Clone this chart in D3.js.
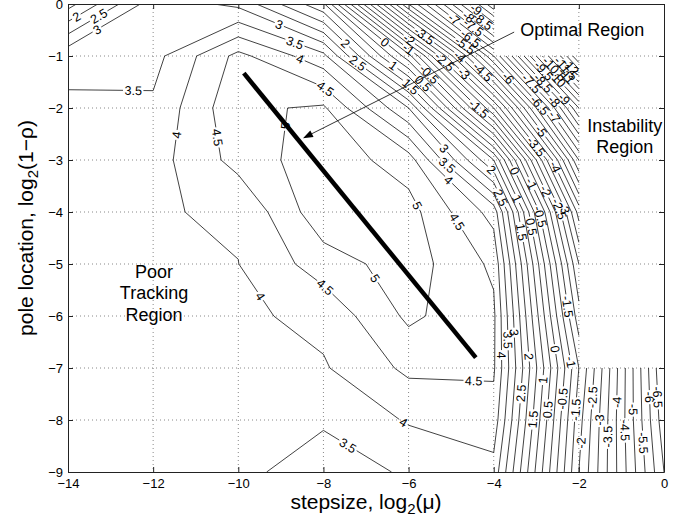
<!DOCTYPE html>
<html>
<head>
<meta charset="utf-8">
<script src="https://cdn.jsdelivr.net/npm/d3@7"></script>
<style>
  html, body { margin: 0; padding: 0; background: #fff; }
  text { font-family: "Liberation Sans", Arial, Helvetica, sans-serif; }
</style>
</head>
<body>
<svg id="chart" width="695" height="522"></svg>
<script>
// Sweep grid: stepsize columns (log2 mu) and pole-location rows (log2(1-rho))
const stepsizes = [-14, -12, -10, -8, -6, -4, -2, 0];
const poles = [0, -1, -2, -3, -4, -5, -6, -7, -8, -9];

// Tracking performance per stepsize, one array per pole location; null = unstable (not evaluated)
const pole0 = [1.30, 3.30, 2.88, 1.10, -5.50, -10.40, null, null];
const pole1 = [3.38, 3.32, 4.65, 3.65, -0.30, -6.50, -13.50, null];
const pole2 = [3.565, 3.59, 4.89, 5.08, 3.00, -2.50, -9.50, null];
const pole3 = [3.70, 3.79, 4.68, 5.32, 4.75, 1.50, -6.50, null];
const pole4 = [3.75, 3.97, 4.05, 5.35, 5.20, 3.80, -4.20, null];
const pole5 = [3.75, 3.90, 3.995, 4.75, 5.25, 4.40, -3.00, null];
const pole6 = [3.72, 3.82, 3.90, 4.14, 5.10, 4.60, -2.30, null];
const pole7 = [3.70, 3.78, 3.80, 3.95, 4.61, 4.57, -1.50, -7.00];
const pole8 = [3.65, 3.70, 3.70, 3.55, 4.05, 4.30, -1.80, -6.80];
const pole9 = [3.60, 3.62, 3.60, 3.30, 3.55, 3.82, -2.00, -6.50];
const perf = [pole0, pole1, pole2, pole3, pole4, pole5, pole6, pole7, pole8, pole9];

// Contour levels every 0.5
const levels = d3.range(-26, 11).map(k => k / 2);

// Axis ticks
const xTicks = [-14, -12, -10, -8, -6, -4, -2, 0];
const yTicks = [-9, -8, -7, -6, -5, -4, -3, -2, -1, 0];

// Optimal operating line (stepsize, pole) end points
const optimalLine = [[-9.87, -1.33], [-4.42, -6.80]];
// Annotation arrow: from label to the optimal line
const arrowFrom = [-3.52, -0.54];
const arrowTo = [-8.48, -2.58];

const svg = d3.select("#chart");
const x = d3.scaleLinear().domain([-14, 0]).range([68, 664]);
const y = d3.scaleLinear().domain([-9, 0]).range([472, 4]);

svg.append("defs").append("clipPath").attr("id", "plotClip")
  .append("rect")
  .attr("x", x(-14)).attr("y", y(0))
  .attr("width", x(0) - x(-14)).attr("height", y(-9) - y(0));

// Dotted grid
const grid = svg.append("g")
  .attr("stroke", "#6a6a6a").attr("stroke-width", 0.8).attr("stroke-dasharray", "1,3");
xTicks.slice(1, -1).forEach(t => grid.append("line")
  .attr("x1", x(t)).attr("x2", x(t)).attr("y1", y(0)).attr("y2", y(-9)));
yTicks.slice(1, -1).forEach(t => grid.append("line")
  .attr("x1", x(-14)).attr("x2", x(0)).attr("y1", y(t)).attr("y2", y(t)));

// Marching squares over the sweep grid; cells with an unstable corner are skipped
function contourLines(level) {
  const nx = stepsizes.length, ny = poles.length;
  const pts = new Map(), adj = new Map();
  const above = v => v >= level;
  function edgePoint(key, x0, y0, z0, x1, y1, z1) {
    if (!pts.has(key)) {
      const t = (level - z0) / (z1 - z0);
      pts.set(key, [x0 + t * (x1 - x0), y0 + t * (y1 - y0)]);
    }
  }
  function link(a, b) {
    if (!adj.has(a)) adj.set(a, []);
    if (!adj.has(b)) adj.set(b, []);
    adj.get(a).push(b); adj.get(b).push(a);
  }
  for (let j = 0; j < ny - 1; j++) {
    for (let i = 0; i < nx - 1; i++) {
      const z00 = perf[j][i], z10 = perf[j][i + 1], z01 = perf[j + 1][i], z11 = perf[j + 1][i + 1];
      if ([z00, z10, z01, z11].some(v => v == null)) continue;
      const X0 = stepsizes[i], X1 = stepsizes[i + 1], Y0 = poles[j], Y1 = poles[j + 1];
      const e = [];
      if (above(z00) !== above(z10)) { const k = `h${i},${j}`; edgePoint(k, X0, Y0, z00, X1, Y0, z10); e.push(k); } else e.push(null);
      if (above(z10) !== above(z11)) { const k = `v${i + 1},${j}`; edgePoint(k, X1, Y0, z10, X1, Y1, z11); e.push(k); } else e.push(null);
      if (above(z01) !== above(z11)) { const k = `h${i},${j + 1}`; edgePoint(k, X0, Y1, z01, X1, Y1, z11); e.push(k); } else e.push(null);
      if (above(z00) !== above(z01)) { const k = `v${i},${j}`; edgePoint(k, X0, Y0, z00, X0, Y1, z01); e.push(k); } else e.push(null);
      const hit = e.filter(k => k !== null);
      if (hit.length === 2) link(hit[0], hit[1]);
      else if (hit.length === 4) {
        const c = (z00 + z10 + z01 + z11) / 4;
        if (above(c) === above(z00)) { link(e[0], e[1]); link(e[2], e[3]); }
        else { link(e[0], e[3]); link(e[1], e[2]); }
      }
    }
  }
  const visited = new Set(), lines = [];
  function walk(start) {
    const line = [start]; visited.add(start);
    let cur = start;
    while (true) {
      const nb = (adj.get(cur) || []).filter(k => !visited.has(k));
      if (!nb.length) break;
      cur = nb[0]; visited.add(cur); line.push(cur);
    }
    if (line.length > 2 && (adj.get(cur) || []).includes(start)) line.push(start);
    return line.map(k => pts.get(k));
  }
  for (const [k, nb] of adj) if (nb.length === 1 && !visited.has(k)) lines.push(walk(k));
  for (const k of adj.keys()) if (!visited.has(k)) lines.push(walk(k));
  return lines;
}

const fmtLevel = v => String(+v.toFixed(1));
const labelFont = 12.5;
const labelSpacing = 185;
// label offsets along each line cycle through these fractions so neighbouring labels do not stack
const labelPhase = [0.5, 0.28, 0.72, 0.4, 0.6, 0.33, 0.66];
const lineGen = d3.line();
const contourG = svg.append("g").attr("clip-path", "url(#plotClip)")
  .attr("fill", "none").attr("stroke", "#111").attr("stroke-width", 0.8);
const labelG = svg.append("g").attr("font-size", labelFont).attr("fill", "#000");

function pointAt(P, cum, s) {
  let i = 0;
  while (i < cum.length - 2 && cum[i + 1] < s) i++;
  const seg = cum[i + 1] - cum[i] || 1;
  const t = Math.max(0, Math.min(1, (s - cum[i]) / seg));
  return [P[i][0] + t * (P[i + 1][0] - P[i][0]), P[i][1] + t * (P[i + 1][1] - P[i][1])];
}
function subLine(P, cum, s0, s1) {
  const out = [pointAt(P, cum, s0)];
  for (let i = 0; i < P.length; i++) if (cum[i] > s0 && cum[i] < s1) out.push(P[i]);
  out.push(pointAt(P, cum, s1));
  return out;
}

function drawLabeledLine(P, txt, phase) {
  const cum = [0];
  for (let i = 1; i < P.length; i++) cum.push(cum[i - 1] + Math.hypot(P[i][0] - P[i - 1][0], P[i][1] - P[i - 1][1]));
  const L = cum[cum.length - 1];
  if (L <= 0) return;
  const probe = labelG.append("text").text(txt);
  const w = probe.node().getComputedTextLength();
  probe.remove();
  const gaps = [];
  if (L > w + 8) {
    const n = Math.max(1, Math.round(L / labelSpacing));
    const margin = w / 2 + 3;
    for (let k = 0; k < n; k++) {
      let s = (k + phase) * L / n;
      s = Math.max(margin, Math.min(L - margin, s));
      const a = pointAt(P, cum, s - w / 2), b = pointAt(P, cum, s + w / 2), c = pointAt(P, cum, s);
      let ang = Math.atan2(b[1] - a[1], b[0] - a[0]) * 180 / Math.PI;
      if (ang > 90) ang -= 180;
      if (ang < -90) ang += 180;
      labelG.append("text")
        .attr("transform", `translate(${c[0]},${c[1]}) rotate(${ang})`)
        .attr("text-anchor", "middle").attr("dy", "0.36em")
        .text(txt);
      gaps.push([s - w / 2 - 1.5, s + w / 2 + 1.5]);
    }
  }
  let start = 0;
  const pieces = [];
  gaps.forEach(([g0, g1]) => { if (g0 > start) pieces.push([start, g0]); start = g1; });
  if (start < L) pieces.push([start, L]);
  pieces.forEach(([s0, s1]) => contourG.append("path").attr("d", lineGen(subLine(P, cum, s0, s1))));
}

levels.forEach((level, li) => {
  const txt = fmtLevel(level);
  contourLines(level).forEach((line, k) => {
    drawLabeledLine(line.map(([a, b]) => [x(a), y(b)]), txt, labelPhase[(li + k) % labelPhase.length]);
  });
});

// Optimal operating line
svg.append("path")
  .attr("d", lineGen(optimalLine.map(([a, b]) => [x(a), y(b)])))
  .attr("stroke", "#000").attr("stroke-width", 4.5).attr("fill", "none");

// Annotation arrow
const ax0 = x(arrowFrom[0]), ay0 = y(arrowFrom[1]), ax1 = x(arrowTo[0]), ay1 = y(arrowTo[1]);
const ang = Math.atan2(ay1 - ay0, ax1 - ax0);
const headLen = 10, headHalf = 3.6;
svg.append("line")
  .attr("x1", ax0).attr("y1", ay0)
  .attr("x2", ax1 - Math.cos(ang) * headLen * 0.8).attr("y2", ay1 - Math.sin(ang) * headLen * 0.8)
  .attr("stroke", "#000").attr("stroke-width", 0.8);
const bx = ax1 - Math.cos(ang) * headLen, by = ay1 - Math.sin(ang) * headLen;
svg.append("path")
  .attr("d", `M${ax1},${ay1} L${bx - Math.sin(ang) * headHalf},${by + Math.cos(ang) * headHalf} L${bx + Math.sin(ang) * headHalf},${by - Math.cos(ang) * headHalf} Z`)
  .attr("fill", "#000");

// Region annotations
const noteG = svg.append("g").attr("font-size", 18).attr("fill", "#000");
noteG.append("text").attr("x", x(-3.52) + 6).attr("y", y(-0.62)).text("Optimal Region");
noteG.append("text").attr("x", x(-0.92)).attr("y", y(-2.46)).attr("text-anchor", "middle").text("Instability");
noteG.append("text").attr("x", x(-0.92)).attr("y", y(-2.87)).attr("text-anchor", "middle").text("Region");
noteG.append("text").attr("x", x(-11.98)).attr("y", y(-5.27)).attr("text-anchor", "middle").text("Poor");
noteG.append("text").attr("x", x(-11.98)).attr("y", y(-5.68)).attr("text-anchor", "middle").text("Tracking");
noteG.append("text").attr("x", x(-11.98)).attr("y", y(-6.09)).attr("text-anchor", "middle").text("Region");

// Axes with inward ticks on all four sides
const axisColor = "#222";
function styleAxis(g) {
  g.attr("font-family", "\"Liberation Sans\", Arial, sans-serif").attr("font-size", 13);
  g.select(".domain").attr("stroke", axisColor);
  g.selectAll(".tick line").attr("stroke", axisColor);
  g.selectAll(".tick text").attr("fill", "#000");
}
svg.append("g").attr("transform", `translate(0,${y(-9)})`)
  .call(d3.axisBottom(x).tickValues(xTicks).tickSizeInner(-5).tickSizeOuter(0).tickPadding(7)).call(styleAxis);
svg.append("g").attr("transform", `translate(${x(-14)},0)`)
  .call(d3.axisLeft(y).tickValues(yTicks).tickSizeInner(-5).tickSizeOuter(0).tickPadding(5)).call(styleAxis);
svg.append("g").attr("transform", `translate(0,${y(0)})`)
  .call(d3.axisTop(x).tickValues(xTicks).tickSizeInner(-5).tickSizeOuter(0).tickFormat("")).call(styleAxis);
svg.append("g").attr("transform", `translate(${x(0)},0)`)
  .call(d3.axisRight(y).tickValues(yTicks).tickSizeInner(-5).tickSizeOuter(0).tickFormat("")).call(styleAxis);

// Axis titles
const xt = svg.append("text").attr("x", x(-7)).attr("y", 509).attr("text-anchor", "middle").attr("font-size", 21);
xt.append("tspan").text("stepsize, log");
xt.append("tspan").attr("dy", 5).attr("font-size", 15).text("2");
xt.append("tspan").attr("dy", -5).text("(\u03bc)");

const yt = svg.append("text").attr("transform", "translate(33,228) rotate(-90)").attr("text-anchor", "middle").attr("font-size", 21);
yt.append("tspan").text("pole location, log");
yt.append("tspan").attr("dy", 5).attr("font-size", 15).text("2");
yt.append("tspan").attr("dy", -5).text("(1\u2212\u03c1)");
</script>
</body>
</html>
